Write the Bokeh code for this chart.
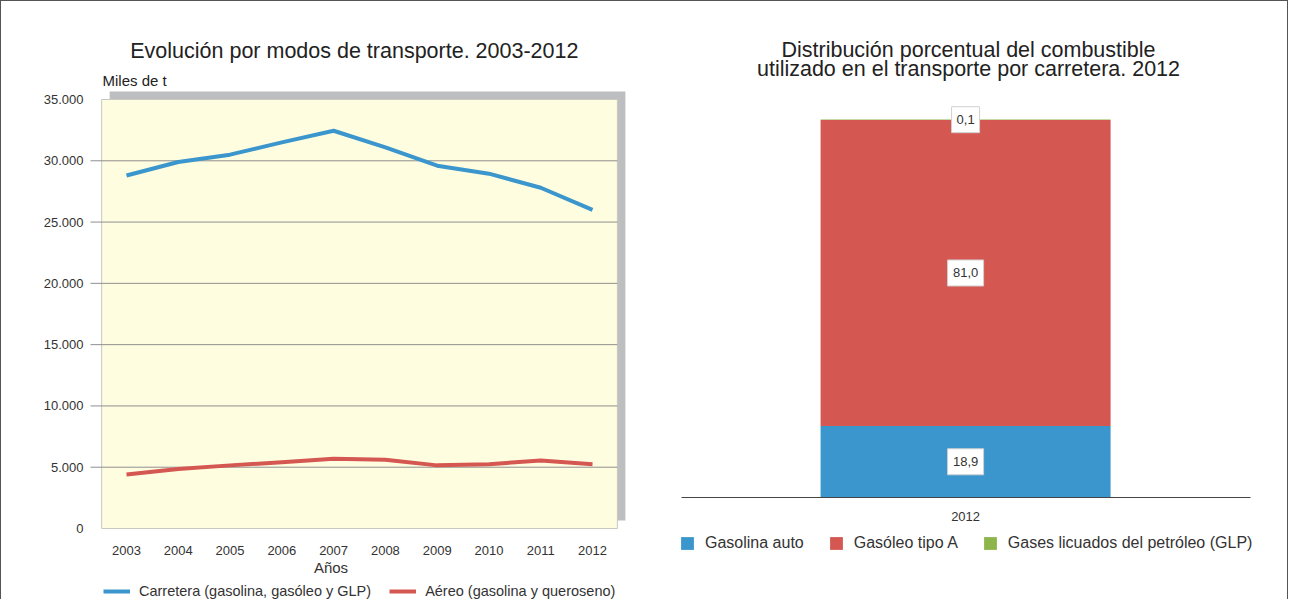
from bokeh.plotting import figure
from bokeh.models import (Range1d, FixedTicker, Label, Legend, LegendItem, ColumnDataSource)
from bokeh.layouts import row
from bokeh.embed import file_html
from bokeh.resources import INLINE
from bokeh.core.properties import value

# ---------------- data ----------------
years = [2003, 2004, 2005, 2006, 2007, 2008, 2009, 2010, 2011, 2012]
carretera = [28800, 29900, 30500, 31500, 32450, 31100, 29600, 28950, 27800, 26000]
aereo = [4400, 4850, 5150, 5400, 5700, 5600, 5150, 5250, 5550, 5250]
y_ticks = [0, 5000, 10000, 15000, 20000, 25000, 30000, 35000]
y_tick_labels = ["0", "5.000", "10.000", "15.000", "20.000", "25.000", "30.000", "35.000"]
grid_values = [5000, 10000, 15000, 20000, 25000, 30000]

fuel_year = [2012]
fuel_names = ["Gasolina auto", "Gasóleo tipo A", "Gases licuados del petróleo (GLP)"]
fuel_shares = [18.9, 81.0, 0.1]

BLUE = "#3a96cc"
RED = "#d45751"
GREEN = "#8db54b"
TXT = "#333333"
DARK = "#222222"
SANS = "Liberation Sans"
H = 598

# ---------------- left chart ----------------
p1 = figure(width=659, height=H, x_range=Range1d(2000.586, 2013.313),
            y_range=Range1d(-5793, 42996), output_backend="svg", toolbar_location=None,
            min_border=0)
p1.title.visible = False
p1.outline_line_color = None
p1.grid.visible = False

x_lo, x_hi = 2002.52, 2012.48
dx_sh, dy_sh = 0.1545, 652
p1.quad(left=[x_lo + dx_sh], right=[x_hi + dx_sh], bottom=[y_ticks[0] + dy_sh],
        top=[y_ticks[-1] + dy_sh], fill_color="#bcbec0", line_color=None)
p1.quad(left=[x_lo], right=[x_hi], bottom=[y_ticks[0]], top=[y_ticks[-1]],
        fill_color="#fffde0", line_color="#c8c8c0", line_width=1)
y_axis_x = 2002.305
p1.segment(x0=[y_axis_x] * len(grid_values), x1=[x_hi] * len(grid_values),
           y0=grid_values, y1=grid_values, line_color="#8f8f8f", line_width=1)

r_car = p1.line(years, carretera, line_color=BLUE, line_width=4, line_join="round")
r_aer = p1.line(years, aereo, line_color=RED, line_width=4, line_join="round")

p1.xaxis.ticker = FixedTicker(ticks=years)
p1.yaxis.ticker = FixedTicker(ticks=y_ticks)
p1.yaxis.major_label_overrides = {t: l for t, l in zip(y_ticks, y_tick_labels)}
p1.xaxis.fixed_location = 0
p1.yaxis.fixed_location = y_axis_x
for ax in (p1.xaxis, p1.yaxis):
    ax.axis_line_color = None
    ax.major_tick_line_color = None
    ax.major_tick_out = 0
    ax.minor_tick_line_color = None
    ax.major_label_text_font = SANS
    ax.major_label_text_font_size = "13px"
    ax.major_label_text_color = TXT
p1.yaxis.major_label_standoff = 7
p1.xaxis.major_label_standoff = 18
p1.xaxis.axis_label = "Años"
p1.xaxis.axis_label_text_font = SANS
p1.xaxis.axis_label_text_font_size = "15px"
p1.xaxis.axis_label_text_font_style = "normal"
p1.xaxis.axis_label_text_color = TXT
p1.xaxis.axis_label_standoff = 0

p1.add_layout(Label(x=2007.40, y=38990, text="Evolución por modos de transporte. 2003-2012",
                    text_align="center", text_baseline="alphabetic", text_font=SANS,
                    text_font_size="21.5px", text_color=DARK))
p1.add_layout(Label(x=2002.5365, y=36520, text="Miles de t", text_align="left",
                    text_baseline="alphabetic", text_font=SANS, text_font_size="15px",
                    text_color=DARK))

leg1 = Legend(items=[LegendItem(label="Carretera (gasolina, gasóleo y GLP)", renderers=[r_car]),
                     LegendItem(label="Aéreo (gasolina y queroseno)", renderers=[r_aer])],
              orientation="horizontal", location=(102, 0), padding=0, margin=0,
              spacing=18, glyph_width=27, glyph_height=16, label_height=16,
              label_standoff=9, label_text_font=SANS, label_text_font_size="14.5px",
              label_text_color=TXT, border_line_color=None, background_fill_alpha=0)
p1.add_layout(leg1)

# ---------------- right chart ----------------
p2 = figure(width=627, height=H, x_range=Range1d(2010.948, 2013.110),
            y_range=Range1d(-26.98, 131.22), output_backend="svg", toolbar_location=None,
            min_border=0)
p2.title.visible = False
p2.outline_line_color = None
p2.grid.visible = False
p2.yaxis.visible = False

src = ColumnDataSource(dict(x=fuel_year, **{n: [v] for n, v in zip(fuel_names, fuel_shares)}))
bars = p2.vbar_stack(fuel_names, x="x", width=1.0, source=src, color=[BLUE, RED, GREEN],
                     line_color=None)

p2.xaxis.ticker = FixedTicker(ticks=fuel_year)
p2.xaxis.major_label_overrides = {y: str(y) for y in fuel_year}
p2.xaxis.fixed_location = 0
p2.xaxis.bounds = (2011.0207, 2012.983)
p2.xaxis.axis_line_color = "#444444"
p2.xaxis.axis_line_width = 1
p2.xaxis.major_tick_line_color = None
p2.xaxis.major_tick_out = 0
p2.xaxis.minor_tick_line_color = None
p2.xaxis.major_label_text_font = SANS
p2.xaxis.major_label_text_font_size = "13px"
p2.xaxis.major_label_text_color = TXT
p2.xaxis.major_label_standoff = 14

mids, acc = [], 0.0
for v in fuel_shares:
    mids.append(acc + v / 2)
    acc += v
texts = [f"{v:.1f}".replace(".", ",") for v in fuel_shares]
lab_src = ColumnDataSource(dict(x=fuel_year * len(fuel_shares), y=mids, t=texts,
                                w=[8 * len(s) + 4 for s in texts]))
p2.rect(x="x", y="y", width="w", height=26, width_units="screen", height_units="screen",
        source=lab_src, fill_color="white", line_color="#d0d0d0", line_width=1)
p2.text(x="x", y="y", text="t", source=lab_src, text_align="center", text_baseline="middle",
        text_font=value(SANS), text_font_size="13px", text_color=TXT)

p2.add_layout(Label(x=2012.01, y=118.35, text="Distribución porcentual del combustible",
                    text_align="center", text_baseline="alphabetic", text_font=SANS,
                    text_font_size="21.5px", text_color=DARK))
p2.add_layout(Label(x=2012.01, y=113.40, text="utilizado en el transporte por carretera. 2012",
                    text_align="center", text_baseline="alphabetic", text_font=SANS,
                    text_font_size="21.5px", text_color=DARK))

leg2 = Legend(items=[LegendItem(label=n, renderers=[b]) for n, b in zip(fuel_names, bars)],
              orientation="horizontal", location=(19, 47), padding=0, margin=0,
              spacing=24, glyph_width=16, glyph_height=16, label_height=16,
              label_standoff=10, label_text_font=SANS, label_text_font_size="16px",
              label_text_color=TXT, border_line_color=None, background_fill_alpha=0)
p2.add_layout(leg2)

layout = row(p1, p2, styles={"border-left": "1px solid #555", "border-top": "1px solid #555",
                             "border-right": "1px solid #555"})

open("out.html", "w").write(file_html(layout, INLINE))
